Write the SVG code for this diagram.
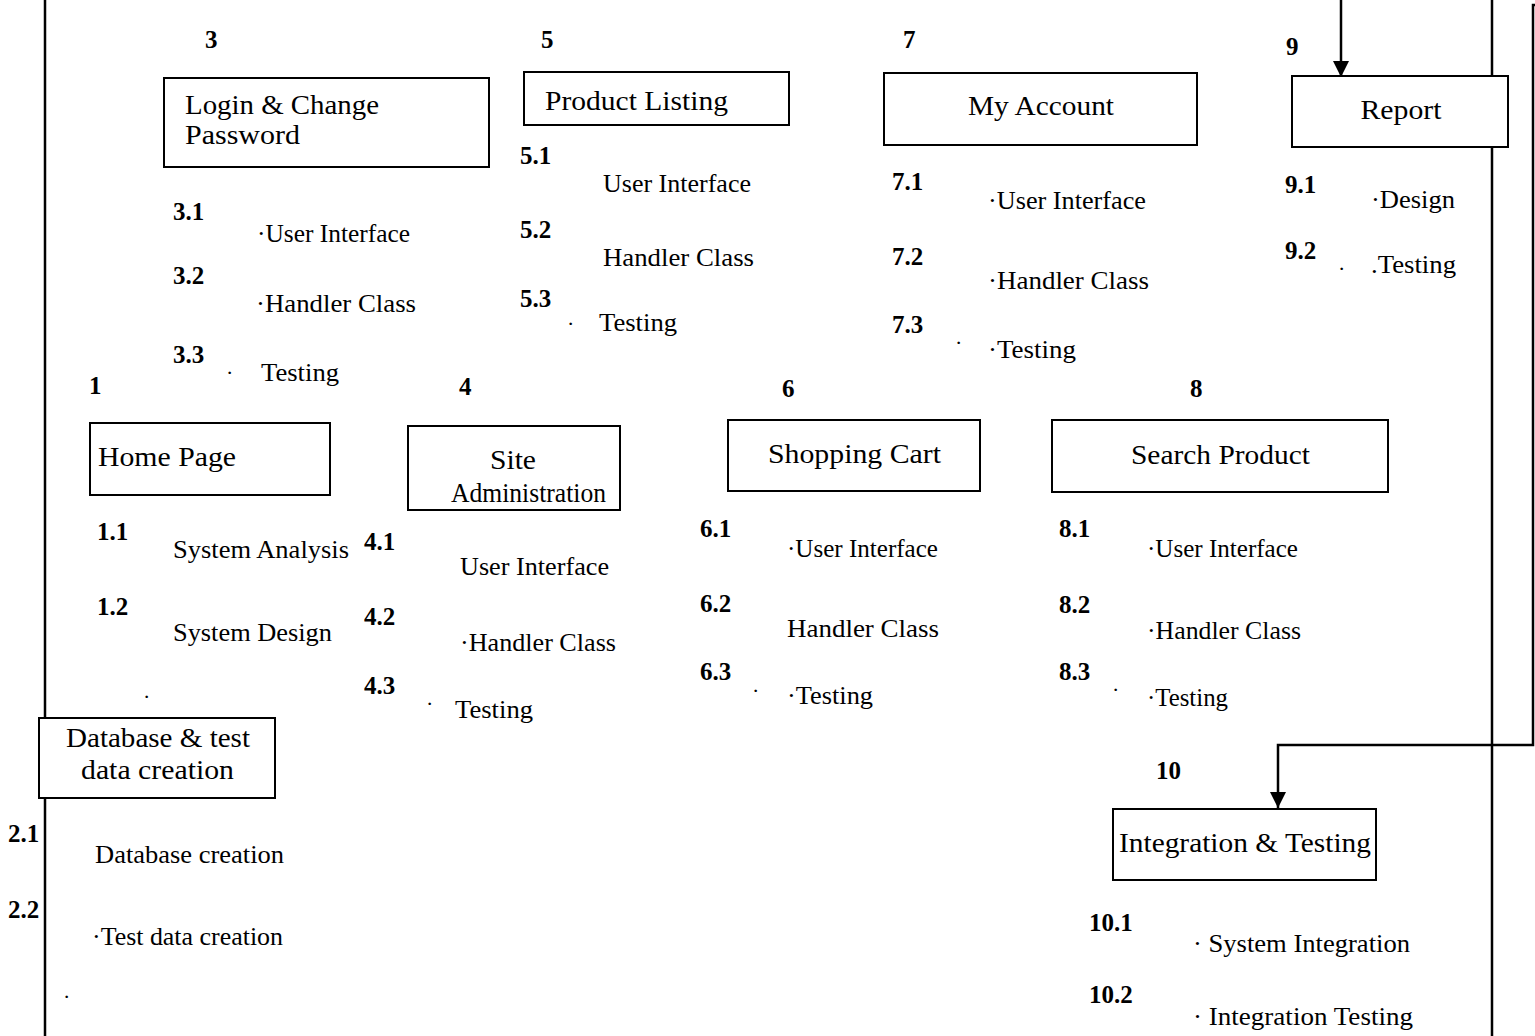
<svg xmlns="http://www.w3.org/2000/svg" width="1535" height="1036" viewBox="0 0 1535 1036">
<defs>
<style>
.box{fill:#fff;stroke:#000;stroke-width:2}
.t{font-family:"Liberation Serif","Times New Roman",serif;font-size:26px;fill:#000}
.h{font-family:"Liberation Serif","Times New Roman",serif;font-size:28px;fill:#000}
.b{font-family:"Liberation Serif","Times New Roman",serif;font-size:25px;font-weight:bold;fill:#000}
.d{font-family:"Liberation Serif","Times New Roman",serif;font-size:22px;fill:#000}
.ln{fill:none;stroke:#000;stroke-width:2.5}
</style>
<marker id="ah" markerUnits="userSpaceOnUse" markerWidth="16" markerHeight="16" refX="16" refY="8" orient="auto">
<path d="M0,0 L16,8 L0,16 z" fill="#000"/>
</marker>
</defs>
<rect width="1535" height="1036" fill="#fff"/>
<g id="frame">
<line class="ln" x1="45" y1="0" x2="45" y2="1036"/>
<line class="ln" x1="1492" y1="0" x2="1492" y2="1036"/>
</g>
<g id="n3">
<text class="b" x="205" y="48">3</text>
<rect class="box" x="164" y="78" width="325" height="89"/>
<text class="h" x="185" y="114" textLength="194" lengthAdjust="spacingAndGlyphs">Login &amp; Change</text>
<text class="h" x="185" y="144" textLength="115" lengthAdjust="spacingAndGlyphs">Password</text>
<text class="b" x="173" y="220">3.1</text>
<text class="t" x="257" y="242" textLength="153" lengthAdjust="spacingAndGlyphs">·User Interface</text>
<text class="b" x="173" y="284">3.2</text>
<text class="t" x="256" y="312" textLength="160" lengthAdjust="spacingAndGlyphs">·Handler Class</text>
<text class="b" x="173" y="363">3.3</text>
<text class="d" x="226" y="380">·</text>
<text class="t" x="261" y="381" textLength="78" lengthAdjust="spacingAndGlyphs">Testing</text>
</g>
<g id="n5">
<text class="b" x="541" y="48">5</text>
<rect class="box" x="524" y="72" width="265" height="53"/>
<text class="h" x="545" y="110" textLength="183" lengthAdjust="spacingAndGlyphs">Product Listing</text>
<text class="b" x="520" y="164">5.1</text>
<text class="t" x="603" y="192" textLength="148" lengthAdjust="spacingAndGlyphs">User Interface</text>
<text class="b" x="520" y="238">5.2</text>
<text class="t" x="603" y="266" textLength="151" lengthAdjust="spacingAndGlyphs">Handler Class</text>
<text class="b" x="520" y="307">5.3</text>
<text class="d" x="567" y="331">·</text>
<text class="t" x="599" y="331" textLength="78" lengthAdjust="spacingAndGlyphs">Testing</text>
</g>
<g id="n7">
<text class="b" x="903" y="48">7</text>
<rect class="box" x="884" y="73" width="313" height="72"/>
<text class="h" x="1041" y="115" text-anchor="middle" textLength="146" lengthAdjust="spacingAndGlyphs">My Account</text>
<text class="b" x="892" y="190">7.1</text>
<text class="t" x="988" y="209" textLength="158" lengthAdjust="spacingAndGlyphs">·User Interface</text>
<text class="b" x="892" y="265">7.2</text>
<text class="t" x="988" y="289" textLength="161" lengthAdjust="spacingAndGlyphs">·Handler Class</text>
<text class="b" x="892" y="333">7.3</text>
<text class="d" x="955" y="350">·</text>
<text class="t" x="988" y="358" textLength="88" lengthAdjust="spacingAndGlyphs">·Testing</text>
</g>
<g id="n9">
<text class="b" x="1286" y="55">9</text>
<rect class="box" x="1292" y="76" width="216" height="71"/>
<text class="h" x="1401" y="119" text-anchor="middle" textLength="81" lengthAdjust="spacingAndGlyphs">Report</text>
<text class="b" x="1285" y="193">9.1</text>
<text class="t" x="1371" y="208" textLength="84" lengthAdjust="spacingAndGlyphs">·Design</text>
<text class="b" x="1285" y="259">9.2</text>
<text class="d" x="1338" y="276">·</text>
<text class="t" x="1371" y="273" textLength="85" lengthAdjust="spacingAndGlyphs">.Testing</text>
</g>
<g id="n1">
<text class="b" x="89" y="394">1</text>
<rect class="box" x="90" y="423" width="240" height="72"/>
<text class="h" x="98" y="466" textLength="138" lengthAdjust="spacingAndGlyphs">Home Page</text>
<text class="b" x="97" y="540">1.1</text>
<text class="t" x="173" y="558" textLength="176" lengthAdjust="spacingAndGlyphs">System Analysis</text>
<text class="b" x="97" y="615">1.2</text>
<text class="t" x="173" y="641" textLength="159" lengthAdjust="spacingAndGlyphs">System Design</text>
<text class="d" x="143" y="704">·</text>
</g>
<g id="n4">
<text class="b" x="459" y="395">4</text>
<rect class="box" x="408" y="426" width="212" height="84"/>
<text class="h" x="490" y="469" textLength="46" lengthAdjust="spacingAndGlyphs">Site</text>
<text class="h" x="451" y="502" textLength="155" lengthAdjust="spacingAndGlyphs">Administration</text>
<text class="b" x="364" y="550">4.1</text>
<text class="t" x="460" y="575" textLength="149" lengthAdjust="spacingAndGlyphs">User Interface</text>
<text class="b" x="364" y="625">4.2</text>
<text class="t" x="460" y="651" textLength="156" lengthAdjust="spacingAndGlyphs">·Handler Class</text>
<text class="b" x="364" y="694">4.3</text>
<text class="d" x="426" y="711">·</text>
<text class="t" x="455" y="718" textLength="78" lengthAdjust="spacingAndGlyphs">Testing</text>
</g>
<g id="n6">
<text class="b" x="782" y="397">6</text>
<rect class="box" x="728" y="420" width="252" height="71"/>
<text class="h" x="768" y="463" textLength="173" lengthAdjust="spacingAndGlyphs">Shopping Cart</text>
<text class="b" x="700" y="537">6.1</text>
<text class="t" x="787" y="557" textLength="151" lengthAdjust="spacingAndGlyphs">·User Interface</text>
<text class="b" x="700" y="612">6.2</text>
<text class="t" x="787" y="637" textLength="152" lengthAdjust="spacingAndGlyphs">Handler Class</text>
<text class="b" x="700" y="680">6.3</text>
<text class="d" x="752" y="698">·</text>
<text class="t" x="787" y="704" textLength="86" lengthAdjust="spacingAndGlyphs">·Testing</text>
</g>
<g id="n8">
<text class="b" x="1190" y="397">8</text>
<rect class="box" x="1052" y="420" width="336" height="72"/>
<text class="h" x="1131" y="464" textLength="179" lengthAdjust="spacingAndGlyphs">Search Product</text>
<text class="b" x="1059" y="537">8.1</text>
<text class="t" x="1147" y="557" textLength="151" lengthAdjust="spacingAndGlyphs">·User Interface</text>
<text class="b" x="1059" y="613">8.2</text>
<text class="t" x="1147" y="639" textLength="154" lengthAdjust="spacingAndGlyphs">·Handler Class</text>
<text class="b" x="1059" y="680">8.3</text>
<text class="d" x="1112" y="697">·</text>
<text class="t" x="1147" y="706" textLength="81" lengthAdjust="spacingAndGlyphs">·Testing</text>
</g>
<g id="n2">
<rect class="box" x="39" y="718" width="236" height="80"/>
<text class="h" x="66" y="747" textLength="184" lengthAdjust="spacingAndGlyphs">Database &amp; test</text>
<text class="h" x="81" y="779" textLength="153" lengthAdjust="spacingAndGlyphs">data creation</text>
<text class="b" x="8" y="842">2.1</text>
<text class="t" x="95" y="863" textLength="189" lengthAdjust="spacingAndGlyphs">Database creation</text>
<text class="b" x="8" y="918">2.2</text>
<text class="t" x="92" y="945" textLength="191" lengthAdjust="spacingAndGlyphs">·Test data creation</text>
<text class="d" x="63" y="1004">·</text>
</g>
<g id="n10">
<text class="b" x="1156" y="779">10</text>
<rect class="box" x="1113" y="809" width="263" height="71"/>
<text class="h" x="1119" y="852" textLength="252" lengthAdjust="spacingAndGlyphs">Integration &amp; Testing</text>
<text class="b" x="1089" y="931">10.1</text>
<text class="t" x="1193" y="952" textLength="217" lengthAdjust="spacingAndGlyphs">·  System Integration</text>
<text class="b" x="1089" y="1003">10.2</text>
<text class="t" x="1193" y="1025" textLength="220" lengthAdjust="spacingAndGlyphs">·  Integration Testing</text>
</g>
<g id="connectors">
<line class="ln" x1="1341" y1="0" x2="1341" y2="77" marker-end="url(#ah)"/>
<path class="ln" d="M1535,5 H1533 V745 H1278 V808" marker-end="url(#ah)"/>
</g>
</svg>
